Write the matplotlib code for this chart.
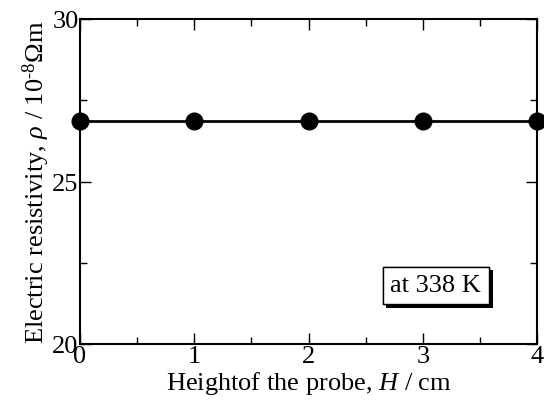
import matplotlib
matplotlib.use("Agg")
import matplotlib.pyplot as plt
import matplotlib.patheffects as pe
from matplotlib.ticker import MultipleLocator

plt.rcParams['font.family'] = ['Liberation Serif', 'DejaVu Serif']
plt.rcParams['mathtext.fontset'] = 'custom'
plt.rcParams['mathtext.rm'] = 'Liberation Serif'
plt.rcParams['mathtext.it'] = 'Liberation Serif:italic'

height = [0, 1, 2, 3, 4]
resistivity = [26.85, 26.85, 26.85, 26.85, 26.85]

fig = plt.figure(figsize=(5.44, 4.10), dpi=100)
ax = fig.add_axes([80/544, 1-345/410, 457/544, 325/410])

ax.plot(height, resistivity, color='black', lw=2, marker='o', ms=12, clip_on=False, zorder=5)

ax.set_xlim(0, 4)
ax.set_ylim(20, 30)
ax.xaxis.set_major_locator(MultipleLocator(1))
ax.xaxis.set_minor_locator(MultipleLocator(0.5))
ax.yaxis.set_major_locator(MultipleLocator(5))
ax.yaxis.set_minor_locator(MultipleLocator(2.5))
ax.tick_params(which='both', direction='in', top=True, right=True, width=1, labelsize=19)
ax.tick_params(which='major', length=8)
ax.tick_params(which='minor', length=5)
ax.tick_params(axis='x', pad=1)
ax.tick_params(axis='y', pad=1)
for s in ax.spines.values():
    s.set_linewidth(1.5)

ax.set_xlabel('Heightof the probe, $H$ / cm', fontsize=19, labelpad=1)
ax.set_ylabel('Electric resistivity, $\\rho$ / 10$^{\\text{-8}}$$\\Omega$m', fontsize=19, labelpad=0)

t = ax.text(3.115, 21.8, 'at 338 K', fontsize=19, ha='center', va='center',
            bbox=dict(boxstyle='square,pad=0.3', fc='white', ec='black', lw=1))
t.get_bbox_patch().set_path_effects([pe.withSimplePatchShadow(offset=(2.5, -2.5), shadow_rgbFace='black', alpha=1), pe.Normal()])

fig.savefig('out.png', dpi=100)
